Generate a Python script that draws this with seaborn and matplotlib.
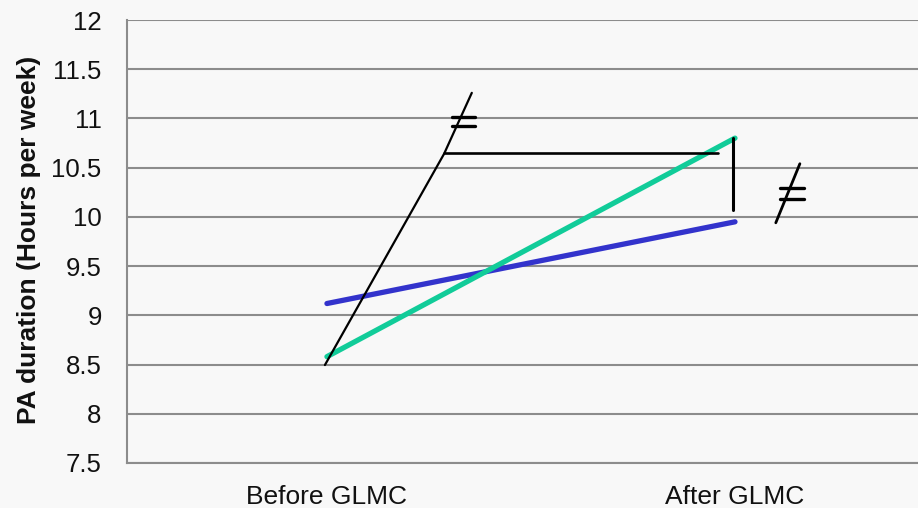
import seaborn as sns
import matplotlib.pyplot as plt
import pandas as pd

# category labels and the two series
phases = ["Before GLMC", "After GLMC"]
group_a = [9.12, 9.95]   # blue
group_b = [8.58, 10.80]  # green

y_ticks = [7.5, 8, 8.5, 9, 9.5, 10, 10.5, 11, 11.5, 12]

# hand-drawn annotation strokes (data units)
slant_x = [-0.005, 0.287, 0.355]
slant_y = [8.495, 10.64, 11.26]
bridge_x = [0.287, 0.958]
bridge_y = [10.65, 10.65]
drop_x = [0.995, 0.995]
drop_y = [10.80, 10.07]
neq1_x = [0.306, 0.363]
neq1_y = [11.015, 10.92]
neq2_x = [1.110, 1.169]
neq2_y = [10.293, 10.18]
slash2_x = [1.100, 1.159]
slash2_y = [9.94, 10.54]

df = pd.DataFrame({
    "pos": [0, 1, 0, 1],
    "value": group_a + group_b,
    "group": ["A", "A", "B", "B"],
})

sns.set_style("white")
plt.rcParams["font.family"] = ["Liberation Sans", "DejaVu Sans"]

bg = "#f8f8f8"
fig = plt.figure(figsize=(9.18, 5.08), dpi=100, facecolor=bg)
ax = fig.add_axes([127 / 918, 45 / 508, 791 / 918, 443 / 508])
ax.set_facecolor(bg)

for y in y_ticks:
    ax.axhline(y, color="#8c8c8c", lw=1.5, zorder=0)

sns.lineplot(data=df, x="pos", y="value", hue="group",
             palette={"A": "#3333cc", "B": "#11cc99"},
             lw=3.8, legend=False, ax=ax, solid_capstyle="round")

ax.plot(slant_x, slant_y, color="black", lw=1.6)
ax.plot(bridge_x, bridge_y, color="black", lw=1.9)
ax.plot(drop_x, drop_y, color="black", lw=2.2)
for yy in neq1_y:
    ax.plot(neq1_x, [yy, yy], color="black", lw=2.4)
for yy in neq2_y:
    ax.plot(neq2_x, [yy, yy], color="black", lw=2.4)
ax.plot(slash2_x, slash2_y, color="black", lw=2.0)

ax.set_xlim(-0.49, 1.4485)
ax.set_ylim(7.5, 12)
ax.set_yticks(y_ticks)
ax.set_yticklabels([f"{v:g}" for v in y_ticks], fontsize=18.5, color="#111111")
ax.set_xticks([0, 1])
ax.set_xticklabels(phases, fontsize=19, color="#111111")
ax.tick_params(axis="x", length=0, pad=16)
ax.tick_params(axis="y", length=2.2, color="#8c8c8c", pad=16)
ax.set_xlabel("")
ax.set_ylabel("PA duration (Hours per week)", fontsize=19, fontweight="bold", color="#111111")
ax.yaxis.set_label_coords(-0.109, 0.503)

for side in ["top", "right"]:
    ax.spines[side].set_visible(False)
for side in ["left", "bottom"]:
    ax.spines[side].set_color("#8c8c8c")
    ax.spines[side].set_linewidth(1.5)

fig.savefig("out.png", dpi=100, facecolor=bg)
